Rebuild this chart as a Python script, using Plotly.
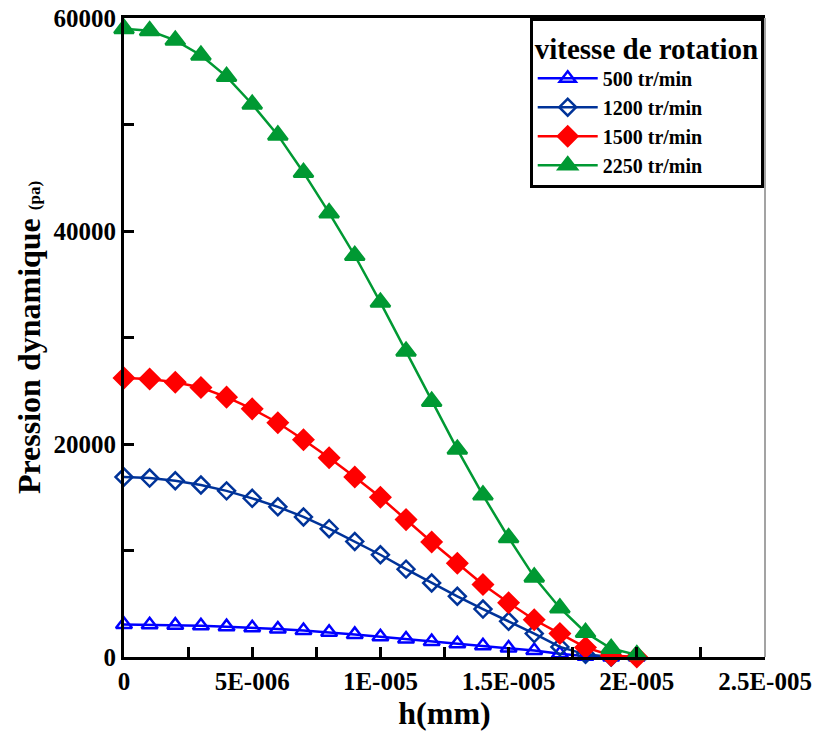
import plotly.graph_objects as go

# gap h (mm), sampled every 1E-006
h_mm = [k * 1e-6 for k in range(21)]

# dynamic pressure (Pa) for each rotation speed
p_500 = [3050, 3030, 2990, 2930, 2850, 2750, 2620, 2480, 2320, 2120, 1900,
         1680, 1450, 1250, 1050, 850, 600, 300, 80, 0, 0]
p_1200 = [16900, 16800, 16550, 16150, 15600, 14900, 14100, 13150, 12050, 10850, 9600,
          8250, 6950, 5700, 4500, 3350, 2200, 950, 250, 0, 0]
p_1500 = [26200, 26100, 25800, 25300, 24400, 23300, 22000, 20400, 18700, 16900, 15000,
          12900, 10800, 8800, 6800, 5100, 3500, 2200, 900, 150, 0]
p_2250 = [59000, 58800, 57900, 56500, 54500, 51900, 49000, 45500, 41700, 37700, 33300,
          28700, 24000, 19500, 15200, 11200, 7500, 4600, 2300, 800, 200]

series_names = ["500 tr/min", "1200 tr/min", "1500 tr/min", "2250 tr/min"]

x_tickvals = [0, 2.5e-6, 5e-6, 7.5e-6, 1e-5, 1.25e-5, 1.5e-5, 1.75e-5, 2e-5, 2.25e-5, 2.5e-5]
x_ticktext = ["0", "", "5E-006", "", "1E-005", "", "1.5E-005", "", "2E-005", "", "2.5E-005"]
y_tickvals = [0, 10000, 20000, 30000, 40000, 50000, 60000]
y_ticktext = ["0", "", "20000", "", "40000", "", "60000"]

FONT = "Liberation Serif"

styles = [
    dict(color="#0000FF", symbol="triangle-up-open", size=14, lw=2.5),
    dict(color="#003399", symbol="diamond-open", size=13, lw=2.5),
    dict(color="#FF0000", symbol="diamond", size=15, lw=2.5),
    dict(color="#009933", symbol="triangle-up", size=17, lw=2.5),
]

fig = go.Figure()
for name, ys, st in zip(series_names, [p_500, p_1200, p_1500, p_2250], styles):
    fig.add_trace(go.Scatter(
        x=h_mm, y=ys, name=name, mode="lines+markers",
        line=dict(color=st["color"], width=st["lw"]),
        marker=dict(symbol=st["symbol"], size=st["size"], color=st["color"],
                    line=dict(color=st["color"], width=2.5)),
        cliponaxis=False,
    ))

fig.update_layout(
    width=813, height=735,
    margin=dict(l=124, r=48, t=18, b=78),
    paper_bgcolor="white", plot_bgcolor="white",
    font=dict(family=FONT, color="black"),
    showlegend=True,
    legend=dict(
        x=0.998, xanchor="right", y=1.0, yanchor="top",
        bgcolor="white", bordercolor="black", borderwidth=3,
        title=dict(text="<b>vitesse de rotation</b>", font=dict(size=29, family=FONT)),
        font=dict(size=20, family=FONT, color="black", weight="bold"),
        itemwidth=60, tracegroupgap=0,
    ),
    # thin right-hand frame line
    shapes=[dict(type="line", xref="paper", yref="paper", x0=1, x1=1, y0=0, y1=1,
                 line=dict(color="#666666", width=1.2), layer="below")],
)

fig.update_xaxes(
    range=[0, 2.5e-5], tickmode="array", tickvals=x_tickvals, ticktext=x_ticktext,
    ticks="inside", ticklen=10, tickwidth=2.5, tickcolor="black",
    showline=True, linewidth=3, linecolor="black", mirror=True,
    showgrid=False, zeroline=False, automargin=False,
    tickfont=dict(size=25, family=FONT, color="black", weight="bold"),
    title=dict(text="<b>h(mm)</b>", font=dict(size=32, family=FONT), standoff=4),
)
fig.update_yaxes(
    range=[0, 60000], tickmode="array", tickvals=y_tickvals, ticktext=y_ticktext,
    ticks="inside", ticklen=10, tickwidth=2.5, tickcolor="black",
    showline=True, linewidth=3, linecolor="black", mirror=False,
    showgrid=False, zeroline=False, automargin=False,
    tickfont=dict(size=25, family=FONT, color="black", weight="bold"),
    title=dict(text="<b>Pression dynamique <span style='font-size:17px'>(pa)</span></b>",
               font=dict(size=32, family=FONT), standoff=4),
)

fig.write_html("out.html")
